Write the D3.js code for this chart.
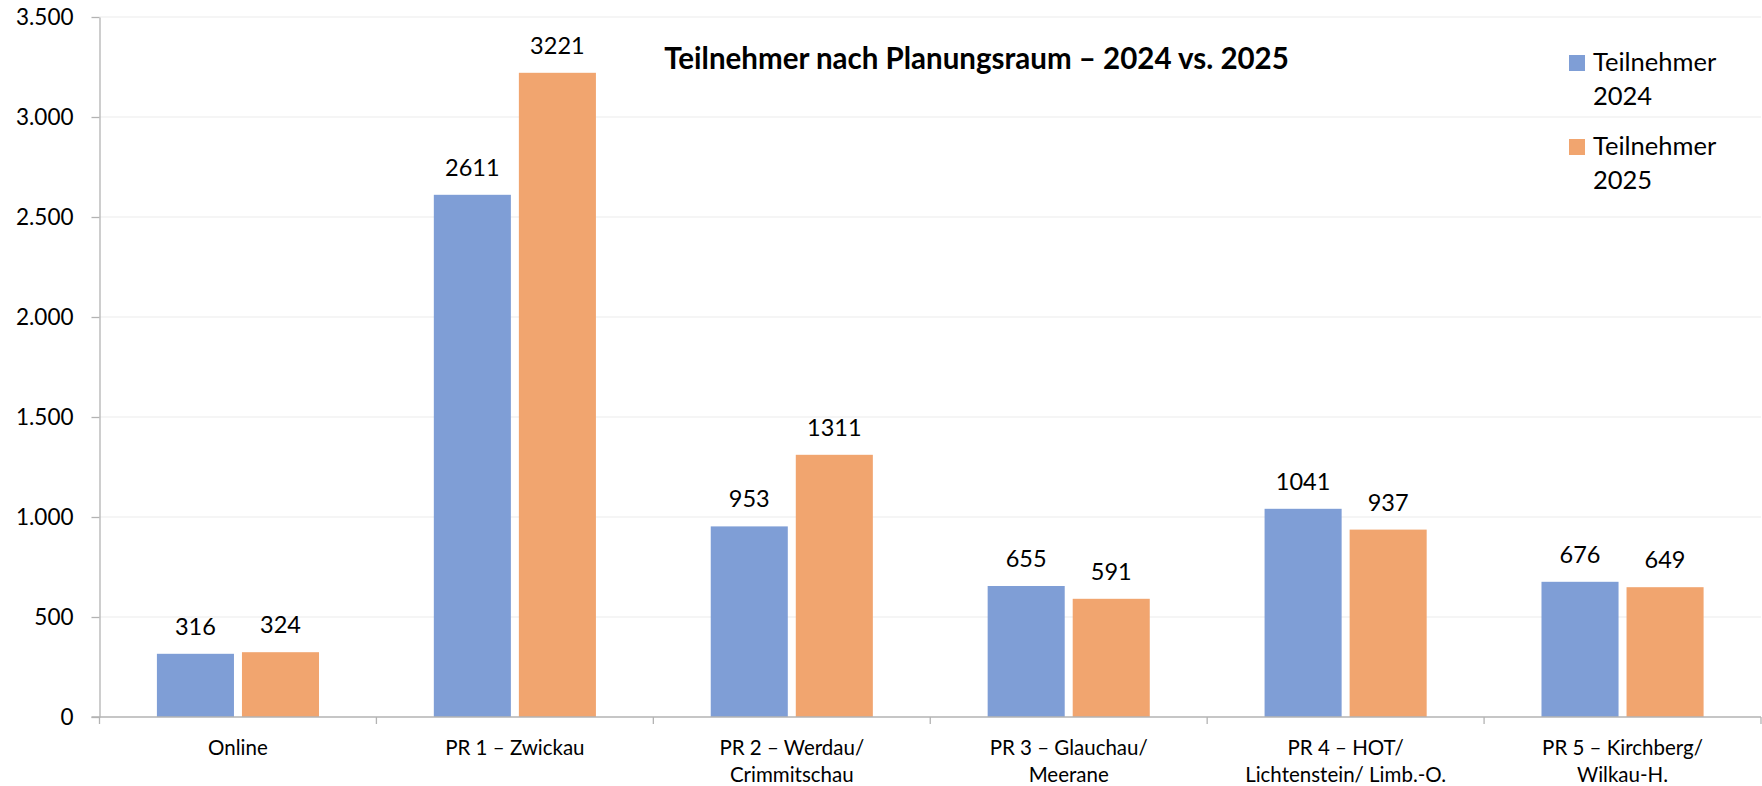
<!DOCTYPE html>
<html>
<head>
<meta charset="utf-8">
<script src="https://cdn.jsdelivr.net/npm/d3@7"></script>
<style>
  html, body { margin: 0; padding: 0; background: #fff; }
  svg { display: block; font-family: Lato, "Open Sans", sans-serif; }
</style>
</head>
<body>
<svg id="chart" width="1762" height="786"></svg>
<script>
const categories = [
  "Online",
  "PR 1 – Zwickau",
  "PR 2 – Werdau/\nCrimmitschau",
  "PR 3 – Glauchau/\nMeerane",
  "PR 4 – HOT/\nLichtenstein/ Limb.-O.",
  "PR 5 – Kirchberg/\nWilkau-H."
];
const seriesNames = ["Teilnehmer 2024", "Teilnehmer 2025"];
const values2024 = [316, 2611, 953, 655, 1041, 676];
const values2025 = [324, 3221, 1311, 591, 937, 649];
const yTicks = [0, 500, 1000, 1500, 2000, 2500, 3000, 3500];
const titleText = "Teilnehmer nach Planungsraum – 2024 vs. 2025";
const colors = ["#7F9ED6", "#F1A56F"];

(function () {
const svg = d3.select("#chart");
const mLeft = 99.5, mRight = 1761, mTop = 17, mBottom = 717;

const x0 = d3.scaleBand().domain(categories).range([mLeft, mRight]).paddingInner(0).paddingOuter(0);
const x1 = d3.scaleBand().domain(seriesNames).range([0, x0.bandwidth()]).paddingInner(0.094).paddingOuter(0.675);
const y = d3.scaleLinear().domain([0, 3500]).range([mBottom, mTop]);

const locale = d3.formatLocale({decimal: ",", thousands: ".", grouping: [3], currency: ["", " €"]});
const fmt = locale.format(",d");

// gridlines
svg.append("g")
  .selectAll("line")
  .data(yTicks.filter(d => d > 0))
  .join("line")
  .attr("x1", mLeft).attr("x2", mRight)
  .attr("y1", d => y(d)).attr("y2", d => y(d))
  .attr("stroke", "#ebebeb").attr("stroke-width", 1.2);

// bars
const data = categories.map((c, i) => ({cat: c, vals: [values2024[i], values2025[i]]}));
const groups = svg.append("g").selectAll("g")
  .data(data).join("g")
  .attr("transform", d => `translate(${x0(d.cat)},0)`);

groups.selectAll("rect")
  .data(d => d.vals.map((v, j) => ({s: seriesNames[j], v, j})))
  .join("rect")
  .attr("x", d => x1(d.s))
  .attr("width", x1.bandwidth())
  .attr("y", d => y(d.v))
  .attr("height", d => y(0) - y(d.v))
  .attr("fill", d => colors[d.j]);

groups.selectAll("text.lbl")
  .data(d => d.vals.map((v, j) => ({s: seriesNames[j], v, j})))
  .join("text")
  .attr("class", "lbl")
  .attr("x", d => x1(d.s) + x1.bandwidth() / 2)
  .attr("y", d => y(d.v) - 19)
  .attr("text-anchor", "middle")
  .attr("font-size", 23.5)
  .attr("fill", "#000")
  .text(d => d.v);

// y axis
const yAxis = d3.axisLeft(y).tickValues(yTicks).tickFormat(fmt).tickSize(8).tickSizeOuter(0).tickPadding(18);
const gy = svg.append("g").attr("transform", `translate(${mLeft},0)`).call(yAxis);
gy.select(".domain").attr("stroke", "#b3b3b3").attr("stroke-width", 1.3);
gy.selectAll(".tick line").attr("stroke", "#b3b3b3").attr("stroke-width", 1.3);
gy.selectAll(".tick text").attr("font-size", 22.5).attr("font-family", "Lato, sans-serif").attr("fill", "#000");

// x axis
svg.append("line")
  .attr("x1", mLeft - 8).attr("x2", mRight)
  .attr("y1", mBottom).attr("y2", mBottom)
  .attr("stroke", "#b3b3b3").attr("stroke-width", 1.3);
const boundaries = categories.map(c => x0(c)).concat([x0(categories[categories.length - 1]) + x0.bandwidth()]);
svg.append("g").selectAll("line")
  .data(boundaries).join("line")
  .attr("x1", d => d).attr("x2", d => d)
  .attr("y1", mBottom).attr("y2", mBottom + 7)
  .attr("stroke", "#b3b3b3").attr("stroke-width", 1.3);

const xl = svg.append("g").selectAll("text")
  .data(categories).join("text")
  .attr("x", d => x0(d) + x0.bandwidth() / 2)
  .attr("y", 755)
  .attr("text-anchor", "middle")
  .attr("font-size", 20.5)
  .attr("fill", "#000");
xl.selectAll("tspan")
  .data(d => d.split("\n"))
  .join("tspan")
  .attr("x", function() { return d3.select(this.parentNode).attr("x"); })
  .attr("dy", (d, i) => i === 0 ? 0 : 27)
  .text(d => d);

// title
svg.append("text")
  .attr("x", 976.5).attr("y", 69)
  .attr("text-anchor", "middle")
  .attr("font-size", 29.5)
  .attr("font-weight", "bold")
  .attr("fill", "#000")
  .text(titleText);

// legend
const legend = svg.append("g").selectAll("g")
  .data(seriesNames).join("g")
  .attr("transform", (d, i) => `translate(1569,${55 + i * 84})`);
legend.append("rect").attr("width", 16).attr("height", 16).attr("fill", (d, i) => colors[i]);
const lt = legend.append("text").attr("x", 24).attr("y", 16).attr("font-size", 25.5).attr("fill", "#000");
lt.selectAll("tspan")
  .data(d => [d.split(" ")[0], d.split(" ")[1]])
  .join("tspan")
  .attr("x", 24)
  .attr("dy", (d, i) => i === 0 ? 0 : 34)
  .text(d => d);
})();
</script>
</body>
</html>
